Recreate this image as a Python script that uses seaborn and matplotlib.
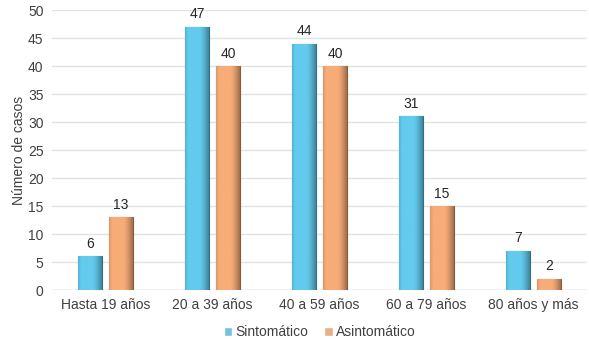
import pandas as pd
import numpy as np
import matplotlib.pyplot as plt
import seaborn as sns

# === DATOS ===
grupos = ["Hasta 19 años", "20 a 39 años", "40 a 59 años", "60 a 79 años", "80 años y más"]
sintomatico = [6, 47, 44, 31, 7]
asintomatico = [13, 40, 40, 15, 2]
series = ["Sintomático", "Asintomático"]

df = pd.DataFrame({
    "grupo": grupos * 2,
    "casos": sintomatico + asintomatico,
    "tipo": [series[0]] * len(grupos) + [series[1]] * len(grupos),
})

colores = {"Sintomático": "#62CBEE", "Asintomático": "#F8AC78"}
bordes = {"Sintomático": "#2E6F8A", "Asintomático": "#8A5A36"}

# === GRAFICO ===
sns.set_style("white")
plt.rcParams["font.family"] = ["Liberation Sans", "DejaVu Sans"]
fig = plt.figure(figsize=(5.89, 3.47), dpi=100)
ax = fig.add_axes([0.088, 0.164, 0.909, 0.807])

sns.barplot(data=df, x="grupo", y="casos", hue="tipo", palette=colores,
            width=0.58, gap=0.23, ax=ax, legend=True, zorder=3)

# relieve de las barras (degradado horizontal)
for cont, nombre in zip(ax.containers, series):
    for p in cont:
        p.set_edgecolor(bordes[nombre])
        p.set_linewidth(0.8)
        x0, y0 = p.get_x(), p.get_y()
        w, h = p.get_width(), p.get_height()
        base = np.array(plt.matplotlib.colors.to_rgb(colores[nombre]))
        t = np.linspace(0, 1, 50)
        shade = 1.0 - 0.35 * np.clip((t - 0.6) / 0.4, 0, 1) ** 1.5 - 0.12 * np.clip((0.12 - t) / 0.12, 0, 1)
        img = (base[None, :] * shade[:, None])[None, :, :]
        im = ax.imshow(img, extent=[x0, x0 + w, y0, y0 + h], aspect="auto",
                       zorder=3.5, interpolation="bilinear")
        im.set_clip_path(p)
    ax.bar_label(cont, padding=4, fontsize=10, color="#262626")

ax.set_xlim(-0.5, len(grupos) - 0.5)
ax.set_ylim(0, 50)
ax.set_yticks(range(0, 51, 5))
ax.yaxis.grid(True, color="#E3E3E3", linewidth=1, zorder=0)
ax.set_axisbelow(True)
for s in ax.spines.values():
    s.set_visible(False)
ax.axhline(0, color="#D9D9D9", linewidth=1, zorder=1)
ax.tick_params(axis="both", length=0, labelsize=10, colors="#404040", pad=6)
ax.set_xlabel("")
ax.set_ylabel("Número de casos", fontsize=10, color="#404040", labelpad=1)

ax.legend(loc="upper center", bbox_to_anchor=(0.5, -0.08), ncol=2, frameon=False,
          fontsize=10, handlelength=0.6, handleheight=0.6, handletextpad=0.2,
          columnspacing=1.2, labelcolor="#404040")

plt.savefig("out.png", dpi=100)
